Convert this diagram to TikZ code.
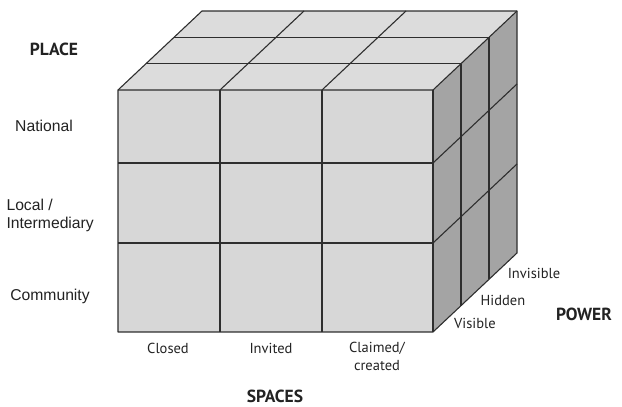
\documentclass[tikz,border=0pt]{standalone}
\usepackage{fontspec}
\setmainfont{PT Sans}
\newfontfamily\arialfont{Liberation Sans}
\usetikzlibrary{positioning}

\definecolor{frontgray}{HTML}{D7D7D7}
\definecolor{topgray}{HTML}{DCDCDC}
\definecolor{sidegray}{HTML}{A4A4A4}
\definecolor{edgegray}{HTML}{2E2E2E}
\definecolor{textgray}{HTML}{222222}

\begin{document}
\begin{tikzpicture}[
  x=1pt, y=-1pt,
  edge/.style={draw=edgegray, line width=1.1pt, line join=round},
  axis/.style={font=\fontsize{17.5}{20}\selectfont\bfseries, text=textgray},
  place/.style={font=\arialfont\fontsize{15.7}{18}\selectfont, text=textgray, align=left},
  tick/.style={font=\fontsize{14.5}{17.5}\selectfont, text=textgray, align=center}
]
  \useasboundingbox (0,0) rectangle (622,407);

  % faces of the cube
  \fill[frontgray] (118,90) rectangle (433,332);
  \fill[topgray] (118,90) -- (433,90) -- (517,11) -- (202,11) -- cycle;
  \fill[sidegray] (433,90) -- (517,11) -- (517,253) -- (433,332) -- cycle;

  % front grid
  \foreach \x in {220,322} \draw[edge] (\x,90) -- (\x,332);
  \foreach \y in {163,243} \draw[edge] (118,\y) -- (433,\y);
  % top grid
  \foreach \x in {220,322} \draw[edge] (\x,90) -- ++(84,-79);
  \foreach \k in {1,2} \draw[edge] (118+28*\k,90-26.33*\k) -- (433+28*\k,90-26.33*\k);
  % side grid
  \foreach \k in {1,2} \draw[edge] (433+28*\k,90-26.33*\k) -- ++(0,242);
  \foreach \y in {163,243} \draw[edge] (433,\y) -- ++(84,-79);
  % outline
  \draw[edge] (118,332) -- (118,90) -- (202,11) -- (517,11) -- (517,253) -- (433,332) -- cycle;
  \draw[edge] (118,90) -- (433,90) -- (517,11);
  \draw[edge] (433,90) -- (433,332);

  % place axis
  \node[axis] (placehead) at (54,49) {PLACE};
  \node[place] (national) at (44,126) {National};
  \node[place, anchor=west] (local) at (3,215) {Local /\\Intermediary};
  \node[place] (community) at (50,296) {Community};

  % spaces axis
  \node[tick] (closed) at (168,348) {Closed};
  \node[tick] (invited) at (271,348) {Invited};
  \node[tick, anchor=north] (claimed) at (377,339) {Claimed/\\created};
  \node[axis] (spaceshead) at (275,396) {SPACES};

  % power axis
  \node[tick] (invisible) at (534,273) {Invisible};
  \node[tick] (hidden) at (503,300) {Hidden};
  \node[tick] (visible) at (475,323) {Visible};
  \node[axis] (powerhead) at (584,314) {POWER};
\end{tikzpicture}
\end{document}
